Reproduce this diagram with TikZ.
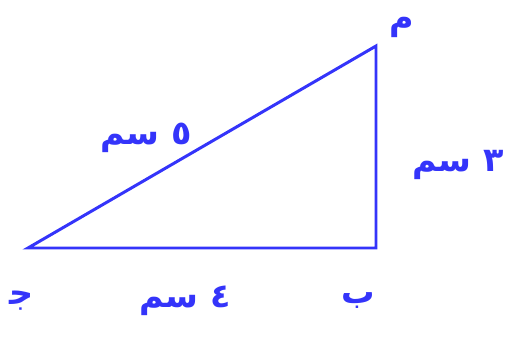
\documentclass[tikz,border=0pt]{standalone}
\usepackage{fontspec}
\usepackage{tikz}
\usetikzlibrary{positioning, calc}
\TeXXeTstate=1
\newfontfamily\arabicfont[Script=Arabic]{DejaVu Sans}
\definecolor{penblue}{RGB}{52,52,250}
\tikzset{
  side/.style={draw=penblue, line width=1.7pt, line join=miter},
  lbl/.style={text=penblue, font=\arabicfont\bfseries\fontsize{19}{22}\selectfont, inner sep=0pt},
}

\begin{document}
\begin{tikzpicture}[x=0.02cm, y=-0.02cm]
    \useasboundingbox (0,0) rectangle (507,341);
    \coordinate (a) at (376,46);
    \coordinate (b) at (376,248);
    \coordinate (c) at (28,248);
    \draw[side] (c) -- (b) -- (a) -- cycle;
    \node[lbl] (la) at (402,27) {\beginR م\endR};
    \node[lbl] (lb) at (358,301) {\beginR ب\endR};
    \node[lbl] (lc) at (22,301) {\beginR ج^^^^200d\endR};
    \node[lbl] (lab) at (458,165) {\beginR ٣ سم\endR};
    \node[lbl] (lac) at (146,138) {\beginR ٥ سم\endR};
    \node[lbl] (lbc) at (185,301) {\beginR ٤ سم\endR};
\end{tikzpicture}
\end{document}
